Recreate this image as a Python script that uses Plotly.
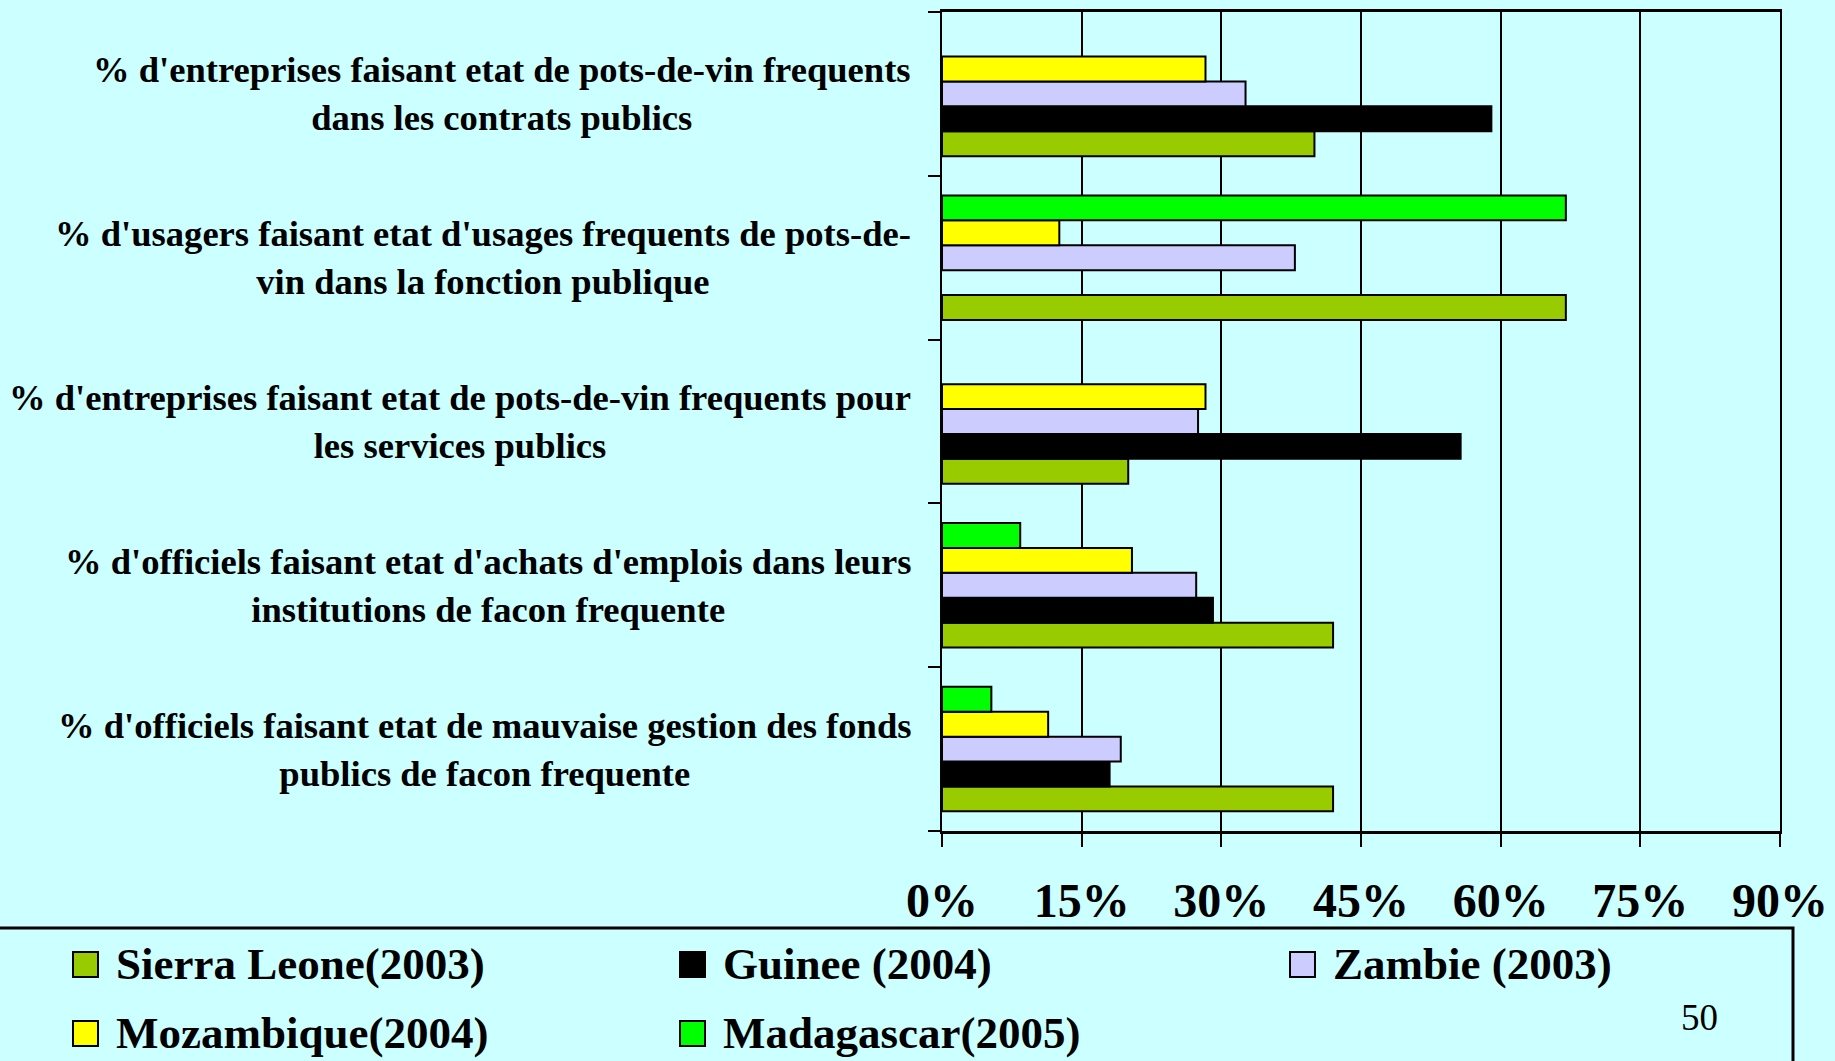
import plotly.graph_objects as go

# Survey indicators, listed bottom-to-top as they appear on the y axis
categories = [
    "% d'officiels faisant etat de mauvaise gestion des fonds<br>publics de facon frequente",
    "% d'officiels faisant etat d'achats d'emplois dans leurs<br>institutions de facon frequente",
    "% d'entreprises faisant etat de pots-de-vin frequents pour<br>les services publics",
    "% d'usagers faisant etat d'usages frequents de pots-de-<br>vin dans la fonction publique",
    "% d'entreprises faisant etat de pots-de-vin frequents<br>dans les contrats publics",
]

sierra_leone = [42.0, 42.0, 20.0, 67.0, 40.0]
guinee = [18.0, 29.1, 55.7, None, 59.0]
zambie = [19.2, 27.3, 27.5, 37.9, 32.6]
mozambique = [11.4, 20.4, 28.3, 12.6, 28.3]
madagascar = [5.3, 8.4, None, 67.0, None]

series_names = ["Sierra Leone(2003)", "Guinee (2004)", "Zambie (2003)",
                "Mozambique(2004)", "Madagascar(2005)"]
series_values = [sierra_leone, guinee, zambie, mozambique, madagascar]
series_colors = ["#99CC00", "#000000", "#CCCCFF", "#FFFF00", "#00FF00"]

x_ticks = [0, 15, 30, 45, 60, 75, 90]

W, H = 1835, 1061
L, R, T, B = 942, 55, 12, 230
PW, PH = W - L - R, H - T - B


def px_x(px):
    return (px - L) / PW


def px_y(py):
    return (H - B - py) / PH


BG = "#CCFFFF"
SERIF = "Liberation Serif, Times New Roman, serif"

fig = go.Figure()
for name, vals, color in zip(series_names, series_values, series_colors):
    fig.add_trace(go.Bar(
        y=categories, x=vals, name=name, orientation="h", showlegend=False,
        marker=dict(color=color, line=dict(color="black", width=2)),
    ))

# Indicator labels: centred multi-line text to the left of the axis
for cat in categories:
    fig.add_annotation(
        x=0, xref="paper", y=cat, yref="y", xanchor="right", xshift=-29,
        text=f"<b>{cat}</b>", showarrow=False, align="center",
        font=dict(family=SERIF, size=36.6, color="black"),
    )

# Legend frame
fig.add_shape(
    type="rect", xref="paper", yref="paper",
    x0=px_x(-2), x1=px_x(1793), y0=px_y(928), y1=px_y(1090),
    line=dict(color="black", width=3), fillcolor="rgba(0,0,0,0)",
)

# Legend entries: three columns, two rows
col_x = [73, 680, 1290]
row_y = [964, 1033]
for i, (name, color) in enumerate(zip(series_names, series_colors)):
    cx, cy = col_x[i % 3], row_y[i // 3]
    fig.add_shape(
        type="rect", xref="paper", yref="paper",
        x0=px_x(cx), x1=px_x(cx + 25), y0=px_y(cy - 12), y1=px_y(cy + 13),
        line=dict(color="black", width=2), fillcolor=color,
    )
    fig.add_annotation(
        x=px_x(cx + 41), y=px_y(cy), xref="paper", yref="paper",
        xanchor="left", yanchor="middle", text=f"<b>{name}</b>",
        showarrow=False, font=dict(family=SERIF, size=45, color="black"),
    )

# Slide number
fig.add_annotation(
    x=px_x(1720), y=px_y(1040), xref="paper", yref="paper",
    text="50", showarrow=False,
    font=dict(family=SERIF, size=37, color="black"),
)

fig.update_layout(
    width=W, height=H,
    margin=dict(l=L, r=R, t=T, b=B, autoexpand=False),
    paper_bgcolor=BG, plot_bgcolor=BG,
    barmode="group", bargap=0.24, bargroupgap=0,
    showlegend=False,
    xaxis=dict(
        range=[0, 90], tickvals=x_ticks, ticktext=[f"{v}%" for v in x_ticks],
        showgrid=True, gridcolor="black", gridwidth=2,
        showline=True, linecolor="black", linewidth=3, mirror=True,
        ticks="outside", ticklen=13, tickwidth=2, tickcolor="black",
        ticklabelstandoff=12,
        tickfont=dict(family=SERIF, size=48, color="black", weight="bold"),
        zeroline=False, fixedrange=True,
    ),
    yaxis=dict(
        type="category", categoryorder="array", categoryarray=categories,
        showticklabels=False, tickson="boundaries",
        ticks="outside", ticklen=12, tickwidth=2, tickcolor="black",
        showline=True, linecolor="black", linewidth=2, mirror=True,
        showgrid=False, zeroline=False, fixedrange=True,
    ),
)

fig.write_html("out.html")
